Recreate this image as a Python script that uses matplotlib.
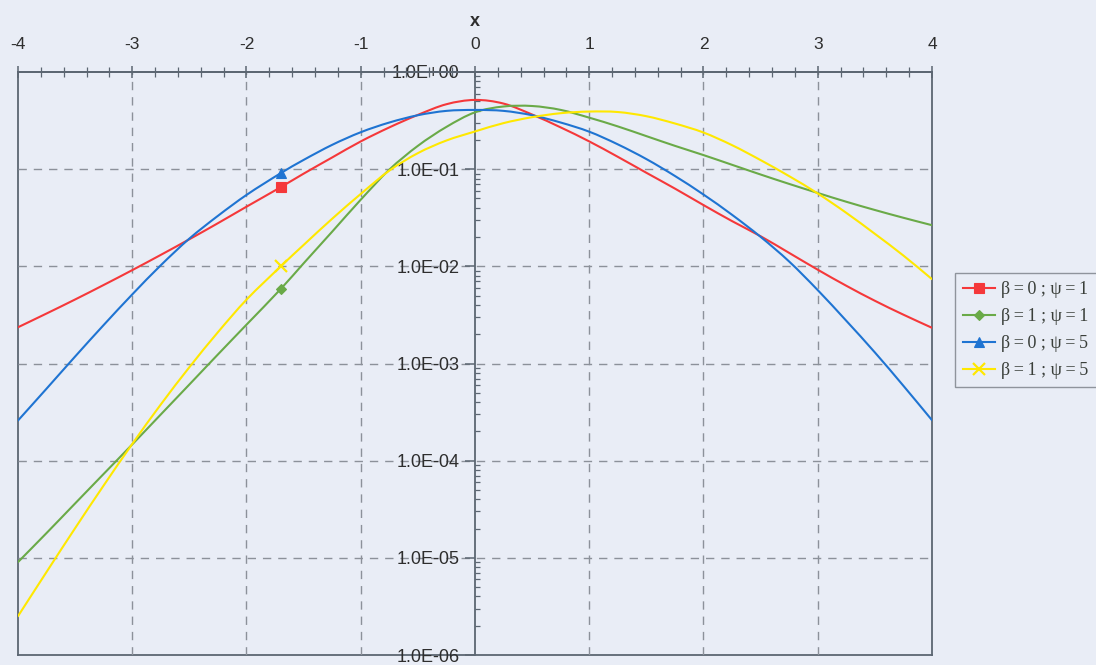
import numpy as np
import matplotlib
matplotlib.use("Agg")
import matplotlib.pyplot as plt
from matplotlib.lines import Line2D
from matplotlib.path import Path
from matplotlib.patches import PathPatch
from matplotlib.ticker import FixedLocator, MultipleLocator, LogLocator, NullFormatter

# Grid of x values (one extra node at -1.7 where the series markers sit)
x = [-4, -3.75, -3.5, -3.25, -3, -2.75, -2.5, -2.25, -2, -1.7, -1.5, -1.25,
     -1, -0.75, -0.5, -0.25, 0, 0.25, 0.5, 0.75, 1, 1.25, 1.5, 1.75,
     2, 2.25, 2.5, 2.75, 3, 3.25, 3.5, 3.75, 4]

# Densities for the four (beta, psi) parameter pairs
dens_b0_p1 = [0.00236, 0.00327, 0.00456, 0.00643, 0.00914, 0.01312, 0.0190, 0.0278,
              0.0411, 0.0653, 0.0899, 0.132, 0.193, 0.269, 0.362, 0.466, 0.516,
              0.473, 0.365, 0.269, 0.193, 0.134, 0.0918, 0.0631, 0.0427, 0.0292,
              0.0204, 0.01374, 0.00923, 0.00631, 0.00442, 0.00318, 0.00233]
dens_b1_p1 = [9.04e-6, 1.80e-5, 3.63e-5, 7.31e-5, 1.47e-4, 2.99e-4, 6.08e-4, 1.24e-3,
              2.51e-3, 5.85e-3, 0.01074, 0.02275, 0.0485, 0.0989, 0.1738, 0.2723,
              0.3846, 0.4416, 0.4467, 0.4074, 0.3388, 0.2754, 0.2188, 0.1738,
              0.1396, 0.1109, 0.0881, 0.0705, 0.0569, 0.0462, 0.0380, 0.0316, 0.0265]
dens_b0_p5 = [2.59e-4, 5.51e-4, 1.18e-3, 2.49e-3, 5.14e-3, 0.01026, 0.0193, 0.0331,
              0.0543, 0.0910, 0.1245, 0.178, 0.240, 0.302, 0.359, 0.398, 0.407,
              0.398, 0.359, 0.302, 0.243, 0.180, 0.127, 0.0851, 0.0548, 0.0339,
              0.0201, 0.0112, 0.00569, 0.00275, 0.00130, 5.89e-4, 2.61e-4]
dens_b1_p5 = [2.51e-6, 7.16e-6, 2.02e-5, 5.56e-5, 1.486e-4, 3.79e-4, 9.16e-4, 2.10e-3,
              4.54e-3, 0.0100, 0.0166, 0.0309, 0.0556, 0.0966, 0.1462, 0.1972,
              0.2443, 0.2979, 0.3428, 0.3767, 0.3917, 0.3873, 0.3508, 0.2951,
              0.2382, 0.1766, 0.1239, 0.0847, 0.0562, 0.0355, 0.0216, 0.0129, 0.00738]

THIN = "\u2009"
labels = [f"β{THIN}={THIN}0 ; ψ{THIN}={THIN}1", f"β{THIN}={THIN}1 ; ψ{THIN}={THIN}1",
          f"β{THIN}={THIN}0 ; ψ{THIN}={THIN}5", f"β{THIN}={THIN}1 ; ψ{THIN}={THIN}5"]
series = [dens_b0_p1, dens_b1_p1, dens_b0_p5, dens_b1_p5]
colors = ["#f5383a", "#6aaa48", "#1f74d2", "#ffe800"]
markers = ["s", "D", "^", "x"]
marker_sizes = [7, 5, 7, 8]
marker_idx = x.index(-1.7)

y_ticks = [1e0, 1e-1, 1e-2, 1e-3, 1e-4, 1e-5, 1e-6]
y_ticklabels = ["1.0E+00", "1.0E-01", "1.0E-02", "1.0E-03", "1.0E-04", "1.0E-05", "1.0E-06"]
x_ticks = [-4, -3, -2, -1, 0, 1, 2, 3, 4]

bg = "#e9edf6"
axis_col = "#5c6672"
grid_col = "#8c919a"
text_col = "#2e2e2e"


def smoothed_line_path(xs, ys):
    """Smoothed (cubic Hermite) line through the data points, built in
    (x, log10 y) space so it stays smooth on the logarithmic axis."""
    X = np.asarray(xs, float)
    L = np.log10(np.asarray(ys, float))
    n = len(X)
    m = np.empty(n)
    m[0] = (L[1] - L[0]) / (X[1] - X[0])
    m[-1] = (L[-1] - L[-2]) / (X[-1] - X[-2])
    m[1:-1] = (L[2:] - L[:-2]) / (X[2:] - X[:-2])
    verts = [(X[0], 10 ** L[0])]
    codes = [Path.MOVETO]
    for i in range(n - 1):
        h = X[i + 1] - X[i]
        c1 = (X[i] + h / 3, 10 ** (L[i] + m[i] * h / 3))
        c2 = (X[i + 1] - h / 3, 10 ** (L[i + 1] - m[i + 1] * h / 3))
        verts += [c1, c2, (X[i + 1], 10 ** L[i + 1])]
        codes += [Path.CURVE4] * 3
    return Path(verts, codes)


fig = plt.figure(figsize=(10.96, 6.65), dpi=100, facecolor=bg)
pos = [18 / 1096, 1 - 655 / 665, (932 - 18) / 1096, (655 - 72) / 665]

# Outer box of the plot area
frame = fig.add_axes(pos, zorder=0)
frame.set_facecolor(bg)
frame.set_xticks([])
frame.set_yticks([])
for sp in frame.spines.values():
    sp.set_color(axis_col)
    sp.set_linewidth(1.3)

ax = fig.add_axes(pos, zorder=1)
ax.set_facecolor("none")
ax.set_yscale("log")
ax.set_xlim(-4, 4)
ax.set_ylim(1e-6, 1e0)

# Dashed grid
for gx in x_ticks[1:-1]:
    if gx != 0:
        ax.axvline(gx, color=grid_col, lw=1.0, dashes=(6, 5), zorder=1)
for gy in y_ticks[1:-1]:
    ax.axhline(gy, color=grid_col, lw=1.0, dashes=(6, 5), zorder=1)

handles = []
for vals, lab, c, m, ms in zip(series, labels, colors, markers, marker_sizes):
    ax.add_patch(PathPatch(smoothed_line_path(x, vals), fill=False, edgecolor=c,
                           lw=1.5, capstyle="round", joinstyle="round", zorder=3))
    mew = 1.6 if m == "x" else 0.8
    ax.plot([x[marker_idx]], [vals[marker_idx]], linestyle="none", marker=m,
            markersize=ms, markeredgewidth=mew, color=c, zorder=4)
    handles.append(Line2D([], [], color=c, lw=1.5, marker=m, markersize=ms,
                          markeredgewidth=mew))

# Spines: vertical axis through x = 0, horizontal axis on top
ax.spines["left"].set_position(("data", 0))
ax.spines["left"].set_color(axis_col)
ax.spines["left"].set_linewidth(1.3)
ax.spines["top"].set_color(axis_col)
ax.spines["top"].set_linewidth(1.3)
ax.spines["right"].set_visible(False)
ax.spines["bottom"].set_visible(False)

ax.yaxis.set_major_locator(FixedLocator(y_ticks))
ax.set_yticklabels(y_ticklabels)
ax.yaxis.set_minor_locator(LogLocator(base=10, subs=range(2, 10), numticks=20))
ax.yaxis.set_minor_formatter(NullFormatter())
ax.tick_params(axis="y", which="major", direction="out", length=7, width=1.1,
               color=axis_col, pad=4, labelsize=13, labelcolor=text_col)
ax.tick_params(axis="y", which="minor", direction="in", length=3.5, width=0.9,
               color=axis_col)
for t in ax.get_yticklabels():
    t.set_fontfamily("Liberation Sans")

ax.xaxis.tick_top()
ax.xaxis.set_label_position("top")
ax.xaxis.set_major_locator(FixedLocator(x_ticks))
ax.xaxis.set_minor_locator(MultipleLocator(0.2))
ax.set_xticklabels([str(v) for v in x_ticks])
ax.tick_params(axis="x", which="major", direction="inout", length=9, width=1.1,
               color=axis_col, pad=10, labelsize=12.5, labelcolor=text_col,
               top=True, bottom=False)
ax.tick_params(axis="x", which="minor", direction="inout", length=7, width=0.9,
               color=axis_col, top=True, bottom=False)
for t in ax.get_xticklabels():
    t.set_fontfamily("Liberation Sans")
ax.set_xlabel("x", fontsize=13, fontweight="bold", family="Liberation Sans",
              color=text_col, labelpad=8)

leg = fig.legend(handles=handles, labels=labels, loc="upper left",
                 bbox_to_anchor=(955 / 1096, 1 - 273 / 665), borderaxespad=0,
                 prop={"family": ["Liberation Serif", "DejaVu Serif"], "size": 13},
                 frameon=True, fancybox=False, facecolor=bg, edgecolor="#8f949c",
                 framealpha=1, borderpad=0.45, labelspacing=0.55,
                 handlelength=1.75, handletextpad=0.35)
leg.get_frame().set_linewidth(1.0)
for t in leg.get_texts():
    t.set_color("#3a3f3a")

fig.savefig("out.png", dpi=100, facecolor=bg)
